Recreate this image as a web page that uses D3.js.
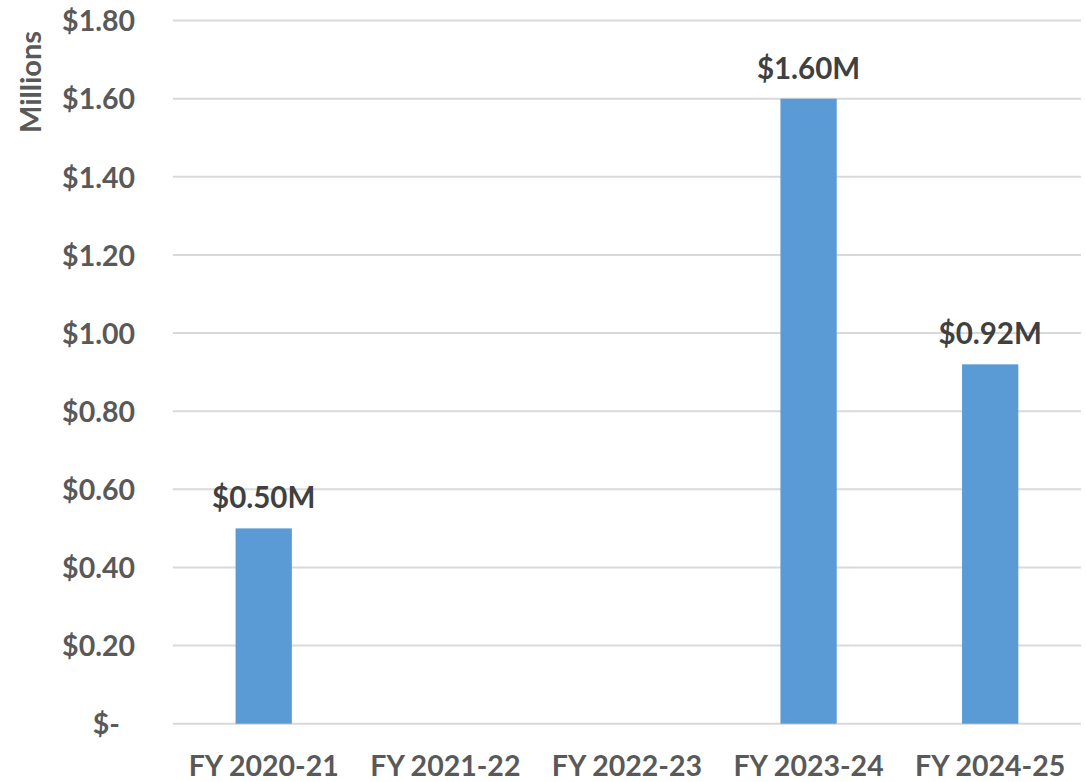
<!DOCTYPE html>
<html>
<head>
<meta charset="utf-8">
<script src="https://cdn.jsdelivr.net/npm/d3@7"></script>
<style>
  html, body { margin: 0; padding: 0; background: #fff; }
  svg { display: block; }
  text { font-family: "Lato", "Open Sans", sans-serif; font-weight: 700; }
</style>
</head>
<body>
<svg id="chart" width="1086" height="782"></svg>
<script>
const categories = ["FY 2020-21", "FY 2021-22", "FY 2022-23", "FY 2023-24", "FY 2024-25"];
const values = [0.50, 0, 0, 1.60, 0.92];
const yTicks = [0, 0.2, 0.4, 0.6, 0.8, 1.0, 1.2, 1.4, 1.6, 1.8];
const yAxisTitle = "Millions";

(function () {
const svg = d3.select("#chart");
const pLeft = 172.9, pRight = 1081, pTop = 20.6, pBottom = 723.7;

const x = d3.scaleBand().domain(categories).range([pLeft, pRight])
  .paddingInner(0.69).paddingOuter(0.345);
const y = d3.scaleLinear().domain([0, 1.8]).range([pBottom, pTop]);

// gridlines
svg.append("g").selectAll("line").data(yTicks).join("line")
  .attr("x1", pLeft).attr("x2", pRight)
  .attr("y1", d => y(d)).attr("y2", d => y(d))
  .attr("stroke", "#d9d9d9").attr("stroke-width", 2);

// y axis labels
const yAxis = d3.axisLeft(y).tickValues(yTicks).tickSize(0).tickPadding(0)
  .tickFormat(d => d === 0 ? "$-" : "$" + d3.format(".2f")(d));
const gy = svg.append("g").attr("transform", `translate(135,0)`).call(yAxis);
gy.select(".domain").remove();
gy.selectAll("text").attr("fill", "#595959").attr("font-size", 28.5)
  .attr("font-family", "Lato, 'Open Sans', sans-serif").attr("font-weight", 700)
  .attr("dy", "0.36em")
  .attr("x", d => d === 0 ? -15 : 0);

// y title
svg.append("text")
  .attr("transform", `translate(41,82) rotate(-90)`)
  .attr("text-anchor", "middle")
  .attr("fill", "#595959").attr("font-size", 29)
  .text(yAxisTitle);

// bars
const data = categories.map((c, i) => ({ c, v: values[i] }));
svg.append("g").selectAll("rect").data(data.filter(d => d.v > 0)).join("rect")
  .attr("x", d => x(d.c)).attr("width", x.bandwidth())
  .attr("y", d => y(d.v)).attr("height", d => y(0) - y(d.v))
  .attr("fill", "#5b9bd5");

// data labels
svg.append("g").selectAll("text").data(data.filter(d => d.v > 0)).join("text")
  .attr("x", d => x(d.c) + x.bandwidth() / 2)
  .attr("y", d => y(d.v) - 20)
  .attr("text-anchor", "middle")
  .attr("fill", "#404040").attr("font-size", 29.5)
  .text(d => "$" + d3.format(".2f")(d.v) + "M");

// x axis labels
const xAxis = d3.axisBottom(x).tickSize(0).tickPadding(0);
const gx = svg.append("g").attr("transform", `translate(0,776)`).call(xAxis);
gx.select(".domain").remove();
gx.selectAll("text").attr("fill", "#595959").attr("font-size", 28.5)
  .attr("font-family", "Lato, 'Open Sans', sans-serif").attr("font-weight", 700)
  .attr("dy", 0);
})();
</script>
</body>
</html>
